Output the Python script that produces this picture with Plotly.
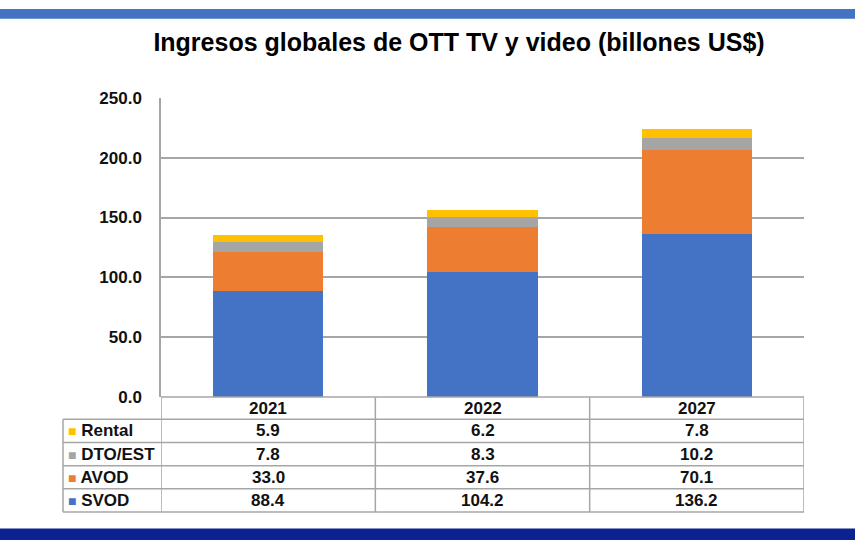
import plotly.graph_objects as go

# data
years = ['2021', '2022', '2027']
svod = [88.4, 104.2, 136.2]
avod = [33.0, 37.6, 70.1]
dto_est = [7.8, 8.3, 10.2]
rental = [5.9, 6.2, 7.8]

series_names = ['SVOD', 'AVOD', 'DTO/EST', 'Rental']
series_values = [svod, avod, dto_est, rental]
series_colors = ['#4472C4', '#ED7D31', '#A5A5A5', '#FFC000']

W, H = 855, 550
GRID = '#A6A6A6'
FONT = 'Liberation Sans, Arial, sans-serif'


def px_y(y):
    # pixel row -> paper coordinate
    return 1 - y / H


def px_x(x):
    return x / W


fig = go.Figure()
for name, vals, col in zip(series_names, series_values, series_colors):
    fig.add_trace(go.Bar(x=years, y=vals, name=name, marker=dict(color=col, line=dict(width=0))))

fig.update_layout(
    barmode='stack', bargap=0.486, showlegend=False,
    width=W, height=H, margin=dict(l=0, r=0, t=0, b=0),
    paper_bgcolor='white', plot_bgcolor='white',
    font=dict(family=FONT, size=17, color='#111111', weight='bold'),
    title=dict(text='Ingresos globales de OTT TV y video (billones US$)',
               x=px_x(459), y=px_y(42), xanchor='center', yanchor='middle',
               font=dict(family=FONT, size=25, color='black', weight='bold')),
)

fig.update_xaxes(domain=[px_x(161), px_x(804)], type='category', range=[-0.5, 2.5],
                 showticklabels=False, showgrid=False, showline=False, zeroline=False)
fig.update_yaxes(domain=[px_y(402), px_y(92)], range=[0, 250], dtick=50, tickformat='.1f',
                 showgrid=True, gridcolor=GRID, gridwidth=1.5, zeroline=False,
                 showline=True, linecolor=GRID, linewidth=1.5, ticks='', ticklabelstandoff=14)

# table rows (top to bottom)
row_tops = [402, 425, 449, 473, 497, 521]
row_order = [3, 2, 1, 0]  # Rental, DTO/EST, AVOD, SVOD
shapes = []
annotations = []

# header row with years
for i, yr in enumerate(years):
    annotations.append(dict(x=i, xref='x', y=px_y((row_tops[0] + row_tops[1]) / 2), yref='paper',
                            text=yr, showarrow=False, xanchor='center', yanchor='middle'))

for r, si in enumerate(row_order):
    yc = px_y((row_tops[r + 1] + row_tops[r + 2]) / 2)
    label = ('<span style="color:%s;font-size:14px">■</span> %s'
             % (series_colors[si], series_names[si]))
    annotations.append(dict(x=px_x(66), xref='paper', y=yc, yref='paper', text=label,
                            showarrow=False, xanchor='left', yanchor='middle'))
    for i, v in enumerate(series_values[si]):
        annotations.append(dict(x=i, xref='x', y=yc, yref='paper', text='%.1f' % v,
                                showarrow=False, xanchor='center', yanchor='middle'))

line = dict(color=GRID, width=1.5)
# bottom axis line of plot / top of table
shapes.append(dict(type='line', xref='paper', yref='paper', x0=px_x(161), x1=px_x(804),
                   y0=px_y(402), y1=px_y(402), line=line))
for yt in row_tops[1:]:
    shapes.append(dict(type='line', xref='paper', yref='paper', x0=px_x(63), x1=px_x(804),
                       y0=px_y(yt), y1=px_y(yt), line=line))
for xb in [-0.5, 0.5, 1.5, 2.5]:
    shapes.append(dict(type='line', xref='x', yref='paper', x0=xb, x1=xb,
                       y0=px_y(402), y1=px_y(521), line=line))
shapes.append(dict(type='line', xref='paper', yref='paper', x0=px_x(63), x1=px_x(63),
                   y0=px_y(425), y1=px_y(521), line=line))

# decorative bands
shapes.append(dict(type='rect', xref='paper', yref='paper', x0=0, x1=1, y0=px_y(10), y1=1,
                   fillcolor='#4472C4', line=dict(width=0)))
shapes.append(dict(type='rect', xref='paper', yref='paper', x0=0, x1=1, y0=0, y1=px_y(538),
                   fillcolor='#0B2290', line=dict(width=0)))

fig.update_layout(shapes=shapes, annotations=annotations)

fig.write_html("out.html", config={'displayModeBar': False},
               post_script="document.body.style.margin='0';")
